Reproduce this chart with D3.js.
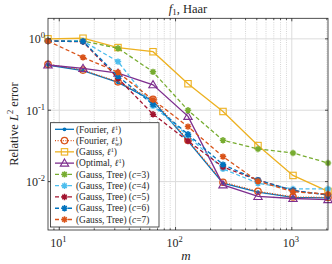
<!DOCTYPE html>
<html>
<head>
<meta charset="utf-8">
<script src="https://cdn.jsdelivr.net/npm/d3@7"></script>
<style>
  body { margin: 0; background: #fff; }
  svg { display: block; }
  text { font-family: "Liberation Serif", "DejaVu Serif", serif; fill: #262626; }
</style>
</head>
<body>
<svg id="chart"></svg>
<script>
// sample counts m
const mVals = [8, 16, 32, 64, 128, 256, 512, 1024, 2048];

// relative L2 error per method
const fourierL1  = [0.43, 0.36, 0.245, 0.135, 0.037, 0.0095, 0.0071, 0.0060, 0.0059];
const fourierL1w = [0.44, 0.365, 0.25, 0.142, 0.038, 0.0098, 0.0073, 0.0061, 0.0060];
const gaussL1    = [1.00, 1.02, 0.755, 0.66, 0.235, 0.096, 0.032, 0.0122, 0.0073];
const optimalL1  = [0.43, 0.385, 0.33, 0.227, 0.082, 0.0090, 0.0062, 0.0058, 0.0056];
const treeC3     = [0.95, 0.93, 0.74, 0.345, 0.100, 0.038, 0.0287, 0.0252, 0.0182];
const treeC4     = [0.94, 0.93, 0.48, 0.115, 0.044, 0.0151, 0.0095, 0.0079, 0.0079];
const treeC5     = [0.93, 0.91, 0.28, 0.088, 0.037, 0.0160, 0.0105, 0.0075, 0.0065];
const treeC6     = [0.93, 0.92, 0.30, 0.120, 0.046, 0.0173, 0.0105, 0.0075, 0.0065];
const treeC7     = [0.93, 0.55, 0.34, 0.140, 0.059, 0.0224, 0.0101, 0.0072, 0.0067];

const xMajor = [10, 100, 1000];
const yMajor = [0.01, 0.1, 1];

const svgWidth = 332, svgHeight = 264;
const margin = { top: 18.3, right: 4, bottom: 34, left: 48 };

const svg = d3.select("#chart")
    .attr("width", svgWidth)
    .attr("height", svgHeight);

const x = d3.scaleLog()
    .domain([8, 2048])
    .range([margin.left, svgWidth - margin.right]);

const y = d3.scaleLog()
    .domain([0.0021, 1.94])
    .range([svgHeight - margin.bottom, margin.top]);

const x0 = x.range()[0], x1 = x.range()[1];
const y0 = y.range()[0], y1 = y.range()[1];

// minor x positions
const xMinor = [];
[1, 10, 100, 1000].forEach(d => {
  for (let k = 2; k <= 9; k++) {
    const v = d * k;
    if (v > 8 && v < 2048) xMinor.push(v);
  }
});

// grid
const grid = svg.append("g");
grid.selectAll(".xmin").data(xMinor).enter().append("line")
    .attr("x1", d => x(d)).attr("x2", d => x(d))
    .attr("y1", y0).attr("y2", y1)
    .attr("stroke", "#b8b8b8").attr("stroke-width", 0.6)
    .attr("stroke-dasharray", "1,1.2");
grid.selectAll(".xmaj").data(xMajor).enter().append("line")
    .attr("x1", d => x(d)).attr("x2", d => x(d))
    .attr("y1", y0).attr("y2", y1)
    .attr("stroke", "#dcdcdc").attr("stroke-width", 1);
grid.selectAll(".ymaj").data(yMajor).enter().append("line")
    .attr("x1", x0).attr("x2", x1)
    .attr("y1", d => y(d)).attr("y2", d => y(d))
    .attr("stroke", "#dcdcdc").attr("stroke-width", 1);

// asterisk marker (MATLAB '*')
function asterisk(r) {
  const a = r * 0.7071;
  return `M${-r},0L${r},0M0,${-r}L0,${r}M${-a},${-a}L${a},${a}M${-a},${a}L${a},${-a}`;
}

const series = [
  { vals: fourierL1,  color: "#0072BD", dash: null,    marker: "dot" },
  { vals: fourierL1w, color: "#D95319", dash: "1,1.6", marker: "circle" },
  { vals: gaussL1,    color: "#EDB120", dash: null,    marker: "square" },
  { vals: optimalL1,  color: "#7E2F8E", dash: null,    marker: "triangle" },
  { vals: treeC3,     color: "#77AC30", dash: "4,2.5", marker: "star" },
  { vals: treeC4,     color: "#4DBEEE", dash: "4,2.5", marker: "star" },
  { vals: treeC5,     color: "#A2142F", dash: "4,2.5", marker: "star" },
  { vals: treeC6,     color: "#0072BD", dash: "4,2.5", marker: "star" },
  { vals: treeC7,     color: "#D95319", dash: "4,2.5", marker: "star" }
];

function drawMarker(g, type, color, cx, cy) {
  if (type === "dot") {
    g.append("circle").attr("cx", cx).attr("cy", cy).attr("r", 1.9).attr("fill", color);
  } else if (type === "circle") {
    g.append("circle").attr("cx", cx).attr("cy", cy).attr("r", 3.2)
        .attr("fill", "none").attr("stroke", color).attr("stroke-width", 1.3);
  } else if (type === "square") {
    g.append("rect").attr("x", cx - 3.2).attr("y", cy - 3.2).attr("width", 6.4).attr("height", 6.4)
        .attr("fill", "none").attr("stroke", color).attr("stroke-width", 1.1);
  } else if (type === "triangle") {
    g.append("path").attr("d", `M${cx},${cy - 4.2}L${cx + 4.2},${cy + 3}L${cx - 4.2},${cy + 3}Z`)
        .attr("fill", "none").attr("stroke", color).attr("stroke-width", 1.1);
  } else {
    g.append("path").attr("transform", `translate(${cx},${cy})`).attr("d", asterisk(3.2))
        .attr("fill", "none").attr("stroke", color).attr("stroke-width", 1.5);
  }
}

const line = d3.line().x((d, i) => x(mVals[i])).y(d => y(d));

const plot = svg.append("g");
series.forEach(s => {
  const g = plot.append("g");
  g.append("path")
      .attr("d", line(s.vals))
      .attr("fill", "none")
      .attr("stroke", s.color)
      .attr("stroke-width", 1.3)
      .attr("stroke-dasharray", s.dash);
  s.vals.forEach((v, i) => drawMarker(g, s.marker, s.color, x(mVals[i]), y(v)));
});

// axes box and ticks (inward, MATLAB style)
const axisG = svg.append("g").attr("stroke", "#262626").attr("stroke-width", 0.8);
axisG.append("rect")
    .attr("x", x0).attr("y", y1).attr("width", x1 - x0).attr("height", y0 - y1)
    .attr("fill", "none");
xMajor.forEach(d => {
  axisG.append("line").attr("x1", x(d)).attr("x2", x(d)).attr("y1", y0).attr("y2", y0 - 3);
  axisG.append("line").attr("x1", x(d)).attr("x2", x(d)).attr("y1", y1).attr("y2", y1 + 3);
});
xMinor.forEach(d => {
  axisG.append("line").attr("x1", x(d)).attr("x2", x(d)).attr("y1", y0).attr("y2", y0 - 1.7);
  axisG.append("line").attr("x1", x(d)).attr("x2", x(d)).attr("y1", y1).attr("y2", y1 + 1.7);
});
yMajor.forEach(d => {
  axisG.append("line").attr("x1", x0).attr("x2", x0 + 3).attr("y1", y(d)).attr("y2", y(d));
  axisG.append("line").attr("x1", x1).attr("x2", x1 - 3).attr("y1", y(d)).attr("y2", y(d));
});

// tick labels
xMajor.forEach(d => {
  const t = svg.append("text")
      .attr("x", x(d) - 1).attr("y", y0 + 17)
      .attr("text-anchor", "middle")
      .style("font-size", "12px");
  t.append("tspan").text("10");
  t.append("tspan").attr("dy", -5).style("font-size", "8.5px").text(Math.round(Math.log10(d)));
});
yMajor.forEach(d => {
  const t = svg.append("text")
      .attr("x", x0 - 3).attr("y", y(d) + 4.5)
      .attr("text-anchor", "end")
      .style("font-size", "12px");
  t.append("tspan").text("10");
  t.append("tspan").attr("dy", -5).style("font-size", "8.5px").text(Math.round(Math.log10(d)));
});

// title
const title = svg.append("text")
    .attr("x", (x0 + x1) / 2).attr("y", 12.5)
    .attr("text-anchor", "middle")
    .style("font-size", "12.5px");
title.append("tspan").style("font-style", "italic").text("f");
title.append("tspan").attr("dy", 2.8).style("font-size", "9px").text("1");
title.append("tspan").attr("dy", -2.8).text(", Haar");

// axis labels
svg.append("text")
    .attr("x", (x0 + x1) / 2 - 2).attr("y", 260)
    .attr("text-anchor", "middle")
    .style("font-size", "13px")
    .style("font-style", "italic")
    .text("m");

const yl = svg.append("text")
    .attr("transform", `translate(18,${(y0 + y1) / 2}) rotate(-90)`)
    .attr("text-anchor", "middle")
    .style("font-size", "12.5px");
yl.append("tspan").text("Relative ");
yl.append("tspan").style("font-style", "italic").text("L");
yl.append("tspan").attr("dy", -5).style("font-size", "8.5px").text("2");
yl.append("tspan").attr("dy", 5).text(" error");

// legend
const legendNames = [
  ["(Fourier, ", "ell", "1", null, ")"],
  ["(Fourier, ", "ell", "1", "w", ")"],
  ["(Gauss, ", "ell", "1", null, ")"],
  ["(Optimal, ", "ell", "1", null, ")"],
  ["(Gauss, Tree) (", "c", "=3)"],
  ["(Gauss, Tree) (", "c", "=4)"],
  ["(Gauss, Tree) (", "c", "=5)"],
  ["(Gauss, Tree) (", "c", "=6)"],
  ["(Gauss, Tree) (", "c", "=7)"]
];

const leg = svg.append("g");
leg.append("rect")
    .attr("x", 50.5).attr("y", 122.7).attr("width", 108.5).attr("height", 104.3)
    .attr("fill", "#fff").attr("stroke", "#262626").attr("stroke-width", 0.8);

const rowY = d3.scaleLinear().domain([0, 8]).range([129.3, 219.5]);
series.forEach((s, i) => {
  const cy = rowY(i);
  const g = leg.append("g");
  g.append("line")
      .attr("x1", 55).attr("x2", 74).attr("y1", cy).attr("y2", cy)
      .attr("stroke", s.color).attr("stroke-width", 1.3)
      .attr("stroke-dasharray", s.dash);
  drawMarker(g, s.marker, s.color, 64.5, cy);

  const parts = legendNames[i];
  const t = leg.append("text")
      .attr("x", 76).attr("y", cy + 3.2)
      .style("font-size", "9.4px");
  t.append("tspan").text(parts[0]);
  if (parts[1] === "ell") {
    t.append("tspan").style("font-style", "italic").text("\u2113");
    t.append("tspan").attr("dy", -3).style("font-size", "6.3px").text(parts[2]);
    if (parts[3]) {
      t.append("tspan").attr("dx", -3.2).attr("dy", 5.5).style("font-size", "6.3px")
          .style("font-style", "italic").text(parts[3]);
      t.append("tspan").attr("dy", -2.5).text(parts[4]);
    } else {
      t.append("tspan").attr("dy", 3).text(parts[4]);
    }
  } else {
    t.append("tspan").style("font-style", "italic").text(parts[1]);
    t.append("tspan").text(parts[2]);
  }
});
</script>
</body>
</html>
